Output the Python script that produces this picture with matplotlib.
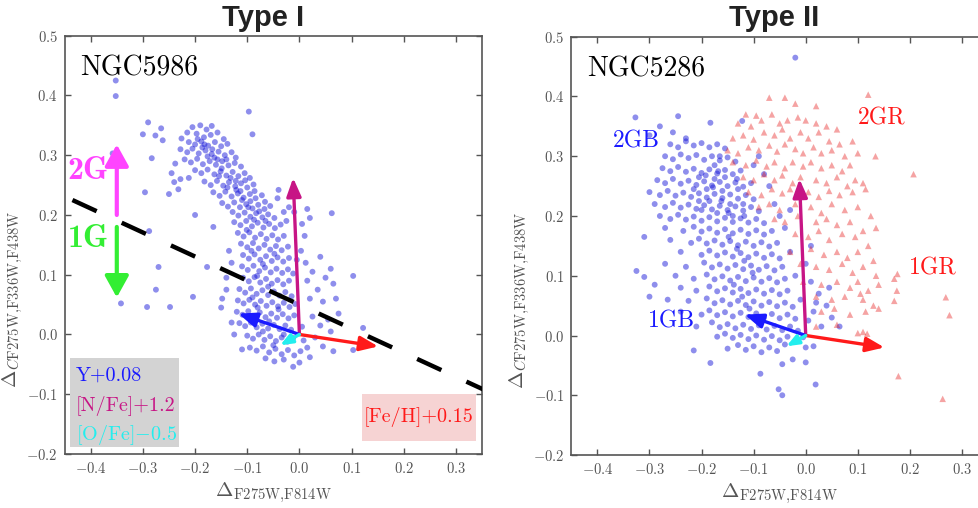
import matplotlib
matplotlib.use("Agg")
import matplotlib.pyplot as plt
from matplotlib.patches import Rectangle
import numpy as np

plt.rcParams['font.family'] = 'serif'
plt.rcParams['font.serif'] = ['cmr10']
plt.rcParams['mathtext.fontset'] = 'cm'
plt.rcParams['axes.formatter.use_mathtext'] = True
plt.rcParams['axes.unicode_minus'] = True

# ---------------- data: NGC5986 (Type I) ----------------
ngc5986_upper = [
    (-0.205,0.347),(-0.19,0.350),(-0.178,0.343),(-0.168,0.349),(-0.215,0.338),(-0.197,0.336),(-0.183,0.33),(-0.17,0.334),
    (-0.157,0.338),(-0.145,0.327),(-0.226,0.328),(-0.212,0.322),(-0.2,0.318),(-0.188,0.323),(-0.175,0.316),(-0.162,0.322),
    (-0.15,0.315),(-0.138,0.319),(-0.228,0.31),(-0.215,0.305),(-0.205,0.311),(-0.193,0.303),(-0.18,0.308),(-0.168,0.302),
    (-0.155,0.306),(-0.143,0.3),(-0.13,0.305),(-0.122,0.296),(-0.22,0.293),(-0.208,0.288),(-0.196,0.294),(-0.185,0.285),
    (-0.172,0.29),(-0.16,0.284),(-0.148,0.29),(-0.136,0.283),(-0.124,0.287),(-0.112,0.281),(-0.2,0.275),(-0.188,0.27),
    (-0.176,0.276),(-0.163,0.268),(-0.151,0.273),(-0.14,0.266),(-0.128,0.272),(-0.117,0.265),(-0.105,0.27),(-0.095,0.262),
    (-0.212,0.262),(-0.182,0.256),(-0.17,0.25),(-0.158,0.257),(-0.146,0.249),(-0.135,0.255),(-0.123,0.248),(-0.112,0.253),
    (-0.1,0.246),(-0.088,0.251),(-0.165,0.238),(-0.153,0.232),(-0.142,0.239),(-0.13,0.231),(-0.118,0.236),(-0.107,0.229),
    (-0.095,0.235),(-0.084,0.228),(-0.072,0.233),(-0.148,0.22),(-0.137,0.214),(-0.125,0.221),(-0.114,0.213),(-0.102,0.218),
    (-0.09,0.211),(-0.079,0.217),(-0.067,0.21),(-0.056,0.215),(-0.128,0.205),(-0.117,0.199),(-0.105,0.204),(-0.094,0.197),
    (-0.083,0.203),(-0.071,0.196),(-0.06,0.201),(-0.048,0.195),
    (-0.245,0.27),(-0.24,0.255),(-0.232,0.243),(-0.25,0.235),(-0.228,0.26),(-0.238,0.286),
    (-0.04,0.242),(-0.042,0.228),(-0.02,0.213),(-0.01,0.205),(0.015,0.21),(0.02,0.195),(0.005,0.185),(-0.025,0.19),(-0.03,0.205),
    (-0.195,0.327),(-0.186,0.313),(-0.176,0.298),(-0.167,0.31),(-0.157,0.293),(-0.149,0.278),(-0.14,0.293),(-0.132,0.262),
    (-0.122,0.257),(-0.113,0.24),(-0.104,0.258),(-0.094,0.223),(-0.086,0.24),(-0.077,0.206),(-0.066,0.222),
    (-0.182,0.318),(-0.163,0.296),(-0.154,0.265),(-0.138,0.246),(-0.121,0.242),(-0.098,0.213),(-0.087,0.192),(-0.11,0.225),
]
ngc5986_mid = [
    (-0.125,0.188),(-0.113,0.183),(-0.102,0.19),(-0.091,0.181),(-0.08,0.187),(-0.069,0.179),(-0.058,0.185),(-0.047,0.178),(-0.036,0.184),
    (-0.118,0.17),(-0.107,0.164),(-0.096,0.171),(-0.085,0.162),(-0.074,0.168),(-0.063,0.16),(-0.052,0.166),(-0.041,0.159),(-0.03,0.165),
    (-0.112,0.152),(-0.1,0.146),(-0.089,0.153),(-0.078,0.144),(-0.067,0.15),(-0.056,0.142),(-0.045,0.148),(-0.034,0.141),(-0.022,0.147),
    (-0.108,0.133),(-0.097,0.127),(-0.086,0.134),(-0.075,0.125),(-0.064,0.131),(-0.053,0.123),(-0.042,0.129),(-0.031,0.122),(-0.02,0.128),
    (-0.11,0.114),(-0.099,0.108),(-0.088,0.115),(-0.077,0.106),(-0.066,0.112),(-0.055,0.104),(-0.044,0.11),(-0.033,0.103),(-0.022,0.109),(-0.012,0.102),
    (-0.108,0.095),(-0.097,0.089),(-0.086,0.096),(-0.075,0.087),(-0.064,0.093),(-0.053,0.085),(-0.042,0.091),(-0.031,0.084),(-0.02,0.09),
    (-0.115,0.076),(-0.104,0.07),(-0.093,0.077),(-0.082,0.068),(-0.071,0.074),(-0.06,0.066),(-0.049,0.072),(-0.038,0.065),(-0.027,0.071),(-0.015,0.064),
    (-0.118,0.057),(-0.107,0.052),(-0.096,0.058),(-0.085,0.05),(-0.074,0.056),(-0.063,0.048),(-0.052,0.054),(-0.041,0.047),(-0.03,0.053),(-0.019,0.046),(-0.008,0.051),
    (0.003,0.14),(0.012,0.12),(0.025,0.105),(0.04,0.13),(0.05,0.095),(0.035,0.075),(0.06,0.11),(0.065,0.085),(0.02,0.06),(0.045,0.055),
    (0.01,0.165),(0.07,0.06),(-0.005,0.125),(0.015,0.09),
    (-0.135,0.14),(-0.14,0.095),(-0.148,0.06),(-0.13,0.12),(-0.14,0.075),
    (-0.092,0.14),(-0.07,0.118),(-0.081,0.098),(-0.06,0.08),(-0.09,0.062),(-0.048,0.135),(-0.101,0.175),(-0.065,0.19),
]
ngc5986_low = [
    (-0.12,0.038),(-0.109,0.033),(-0.098,0.039),(-0.087,0.031),(-0.076,0.037),(-0.065,0.029),(-0.054,0.035),(-0.043,0.028),(-0.032,0.034),(-0.021,0.027),(-0.01,0.032),
    (-0.115,0.019),(-0.104,0.014),(-0.093,0.02),(-0.082,0.012),(-0.071,0.018),(-0.06,0.01),(-0.049,0.016),(-0.038,0.009),(-0.027,0.015),(-0.016,0.008),(0.005,0.013),
    (-0.1,-0.002),(-0.089,-0.007),(-0.078,0.0),(-0.067,-0.009),(-0.056,-0.003),(-0.045,-0.011),(-0.034,-0.005),(-0.023,-0.012),(-0.012,-0.006),(0.008,-0.01),
    (-0.095,-0.022),(-0.082,-0.027),(-0.07,-0.02),(-0.058,-0.03),(-0.046,-0.024),(-0.034,-0.033),(-0.022,-0.026),(-0.01,-0.035),(0.002,-0.028),(0.015,-0.022),
    (-0.048,-0.045),(-0.03,-0.042),(-0.012,-0.054),(0.0,-0.047),(-0.065,-0.04),
    (0.025,0.03),(0.04,0.015),(0.055,0.025),(0.03,-0.005),(0.045,-0.02),(0.065,-0.028),(0.06,0.005),(0.02,-0.038),(0.075,0.035),
    (-0.13,0.02),(-0.125,0.0),(-0.11,-0.025),
    (-0.08,0.045),(-0.058,0.022),(-0.04,0.042),(-0.07,0.005),(-0.03,0.0),(-0.05,-0.018),
]
ngc5986_outliers = [
    (-0.352,0.425),(-0.352,0.399),(-0.358,0.303),(-0.29,0.355),(-0.265,0.345),(-0.3,0.335),(-0.276,0.333),(-0.262,0.325),
    (-0.283,0.295),(-0.296,0.238),(-0.288,0.173),(-0.27,0.113),(-0.275,0.075),(-0.342,0.052),(-0.292,0.046),(-0.248,0.046),
    (-0.204,0.063),(-0.177,0.113),(-0.2,0.2),(-0.097,0.373),(-0.09,0.335),(0.062,0.203),(0.103,0.098),(0.122,0.011),
    (0.103,-0.026),(-0.15,0.045),(-0.165,0.18),
]

# ---------------- data: NGC5286 (Type II) ----------------
ngc5286_blue_upper = [
    (-0.327,0.365),(-0.245,0.367),(-0.28,0.35),(-0.3,0.335),(-0.255,0.34),(-0.02,0.465),(-0.183,0.356),(-0.122,0.359),(-0.23,0.33),
    (-0.26,0.32),(-0.245,0.315),(-0.23,0.325),(-0.215,0.318),(-0.2,0.322),(-0.185,0.315),(-0.17,0.32),(-0.155,0.313),
    (-0.27,0.3),(-0.255,0.295),(-0.24,0.303),(-0.225,0.297),(-0.21,0.302),(-0.195,0.294),(-0.18,0.3),(-0.165,0.293),(-0.15,0.298),(-0.135,0.291),
    (-0.275,0.28),(-0.26,0.275),(-0.245,0.282),(-0.23,0.274),(-0.215,0.279),(-0.2,0.272),(-0.185,0.278),(-0.17,0.271),(-0.155,0.277),(-0.14,0.27),(-0.125,0.276),
    (-0.285,0.26),(-0.27,0.255),(-0.255,0.262),(-0.24,0.254),(-0.225,0.259),(-0.21,0.252),(-0.195,0.258),(-0.18,0.251),(-0.165,0.257),(-0.15,0.25),(-0.135,0.256),(-0.12,0.249),(-0.105,0.255),
    (-0.3,0.24),(-0.28,0.235),(-0.265,0.242),(-0.25,0.234),(-0.235,0.239),(-0.22,0.232),(-0.205,0.238),(-0.19,0.231),(-0.175,0.237),(-0.16,0.23),(-0.145,0.236),(-0.13,0.229),(-0.115,0.235),(-0.1,0.228),
    (-0.29,0.22),(-0.27,0.215),(-0.255,0.222),(-0.24,0.214),(-0.225,0.219),(-0.21,0.212),(-0.195,0.218),(-0.18,0.211),(-0.165,0.217),(-0.15,0.21),(-0.135,0.216),(-0.12,0.209),(-0.105,0.215),(-0.09,0.208),
    (-0.28,0.2),(-0.26,0.195),(-0.245,0.202),(-0.23,0.194),(-0.215,0.199),(-0.2,0.192),(-0.185,0.198),(-0.17,0.191),(-0.155,0.197),(-0.14,0.19),(-0.125,0.196),(-0.11,0.189),(-0.095,0.195),(-0.08,0.188),
    (-0.205,0.265),(-0.19,0.245),(-0.175,0.262),(-0.16,0.242),(-0.145,0.22),(-0.13,0.245),(-0.185,0.225),(-0.17,0.205),
    (-0.2,0.21),(-0.155,0.265),(-0.14,0.2),(-0.215,0.245),(-0.175,0.285),(-0.12,0.22),(-0.165,0.3),
    (-0.07,0.25),(-0.06,0.22),(-0.08,0.27),(-0.05,0.2),(-0.09,0.3),(-0.1,0.285),(-0.04,0.18),(-0.03,0.21),
    (-0.192,0.268),(-0.178,0.248),(-0.162,0.225),(-0.148,0.205),(-0.132,0.262),(-0.118,0.2),(-0.205,0.225),(-0.168,0.275),
]
ngc5286_blue_lower = [
    (-0.27,0.18),(-0.235,0.175),(-0.215,0.182),(-0.2,0.174),(-0.185,0.179),(-0.17,0.172),(-0.155,0.178),(-0.14,0.171),(-0.125,0.177),(-0.11,0.17),(-0.095,0.176),(-0.08,0.169),(-0.065,0.175),
    (-0.31,0.165),(-0.26,0.16),(-0.22,0.155),(-0.205,0.162),(-0.19,0.154),(-0.175,0.159),(-0.16,0.152),(-0.145,0.158),(-0.13,0.151),(-0.115,0.157),(-0.1,0.15),(-0.085,0.156),(-0.07,0.149),(-0.055,0.155),
    (-0.24,0.14),(-0.2,0.135),(-0.185,0.142),(-0.17,0.134),(-0.155,0.139),(-0.14,0.132),(-0.125,0.138),(-0.11,0.131),(-0.095,0.137),(-0.08,0.13),(-0.065,0.136),(-0.05,0.129),
    (-0.27,0.12),(-0.23,0.115),(-0.195,0.122),(-0.18,0.114),(-0.165,0.119),(-0.15,0.112),(-0.135,0.118),(-0.12,0.111),(-0.105,0.117),(-0.09,0.11),(-0.075,0.116),(-0.06,0.109),(-0.045,0.115),
    (-0.325,0.108),(-0.31,0.098),(-0.25,0.1),(-0.215,0.095),(-0.19,0.102),(-0.175,0.094),(-0.16,0.099),(-0.145,0.092),(-0.13,0.098),(-0.115,0.091),(-0.1,0.097),(-0.085,0.09),(-0.07,0.096),(-0.055,0.089),(-0.04,0.095),
    (-0.29,0.085),(-0.24,0.08),(-0.21,0.075),(-0.185,0.082),(-0.17,0.074),(-0.155,0.079),(-0.14,0.072),(-0.125,0.078),(-0.11,0.071),(-0.095,0.077),(-0.08,0.07),(-0.065,0.076),(-0.05,0.069),(-0.035,0.075),
    (-0.3,0.065),(-0.265,0.06),(-0.225,0.058),(-0.19,0.062),(-0.175,0.054),(-0.16,0.059),(-0.145,0.052),(-0.13,0.058),(-0.115,0.051),(-0.1,0.057),(-0.085,0.05),(-0.07,0.056),(-0.055,0.049),(-0.04,0.055),(-0.025,0.048),
    (-0.24,0.04),(-0.2,0.035),(-0.185,0.042),(-0.17,0.034),(-0.155,0.039),(-0.14,0.032),(-0.125,0.038),(-0.11,0.031),(-0.095,0.037),(-0.08,0.03),(-0.065,0.036),(-0.05,0.029),(-0.035,0.035),(-0.02,0.028),
    (-0.21,0.015),(-0.18,0.022),(-0.165,0.014),(-0.15,0.019),(-0.135,0.012),(-0.12,0.018),(-0.105,0.011),(-0.09,0.017),(-0.075,0.01),(-0.06,0.016),(-0.045,0.009),(-0.03,0.015),(-0.015,0.008),
    (-0.17,-0.002),(-0.155,0.003),(-0.14,-0.004),(-0.125,0.001),(-0.11,-0.006),(-0.095,0.0),(-0.08,-0.007),(-0.065,-0.001),(-0.05,-0.008),(-0.035,-0.002),(-0.02,-0.009),(-0.005,-0.003),
    (-0.215,-0.025),(-0.15,-0.022),(-0.13,-0.016),(-0.115,-0.024),(-0.1,-0.018),(-0.085,-0.028),(-0.07,-0.02),(-0.055,-0.026),(-0.04,-0.015),(0.0,-0.02),(0.015,-0.018),
    (-0.183,-0.046),(-0.087,-0.064),(-0.052,-0.09),(-0.045,-0.1),(0.019,-0.082),(-0.025,-0.04),(0.0,-0.045),(-0.045,-0.048),
    (0.01,0.09),(0.025,0.07),(0.04,0.05),(0.015,0.04),(0.05,0.03),(0.065,0.015),(0.03,0.015),(0.02,0.055),(0.045,0.08),(0.005,0.025),
    (-0.01,0.06),(0.0,0.12),(-0.02,0.1),(-0.03,0.14),(0.01,0.15),
    (-0.148,0.165),(-0.132,0.145),(-0.118,0.125),(-0.102,0.105),(-0.138,0.085),(-0.122,0.065),(-0.108,0.045),(-0.088,0.025),
]
ngc5286_red_2g = [
    (-0.115,0.37),(-0.095,0.368),(-0.07,0.398),(-0.04,0.398),(-0.02,0.388),(0.02,0.384),(0.12,0.403),
    (-0.13,0.355),(-0.105,0.35),(-0.085,0.36),(-0.065,0.37),(-0.05,0.355),(-0.035,0.36),(-0.015,0.365),(0.0,0.36),(0.02,0.355),(0.04,0.35),(0.06,0.345),
    (-0.14,0.33),(-0.12,0.335),(-0.1,0.328),(-0.08,0.34),(-0.06,0.335),(-0.045,0.345),(-0.03,0.33),(-0.01,0.34),(0.005,0.33),(0.025,0.34),(0.045,0.325),(0.065,0.32),(0.09,0.325),
    (-0.15,0.31),(-0.13,0.305),(-0.11,0.315),(-0.09,0.31),(-0.07,0.318),(-0.055,0.308),(-0.04,0.32),(-0.02,0.312),(-0.005,0.305),(0.015,0.315),(0.03,0.305),(0.05,0.31),(0.075,0.3),(0.1,0.305),(0.134,0.3),
    (-0.14,0.29),(-0.115,0.285),(-0.095,0.293),(-0.075,0.283),(-0.06,0.29),(-0.04,0.28),(-0.025,0.29),(-0.005,0.283),(0.01,0.29),(0.03,0.28),(0.05,0.285),(0.07,0.275),(0.085,0.285),(0.207,0.27),
    (-0.12,0.265),(-0.1,0.26),(-0.08,0.27),(-0.06,0.26),(-0.045,0.268),(-0.025,0.255),(-0.01,0.265),(0.02,0.26),(0.04,0.255),(0.06,0.265),(0.08,0.25),(0.095,0.26),(0.11,0.255),
    (-0.11,0.24),(-0.085,0.235),(-0.065,0.245),(-0.045,0.238),(-0.03,0.245),(0.005,0.24),(0.025,0.232),(0.045,0.242),(0.065,0.235),(0.09,0.24),(0.115,0.245),
    (-0.09,0.215),(-0.07,0.22),(-0.05,0.21),(-0.02,0.22),(0.01,0.215),(0.03,0.205),(0.05,0.22),(0.075,0.21),(0.1,0.215),(0.125,0.2),
    (-0.06,0.195),(-0.04,0.19),(-0.015,0.2),(0.02,0.19),(0.04,0.195),(0.06,0.185),(0.085,0.19),(0.11,0.175),(0.135,0.18),
]
ngc5286_red_1g = [
    (-0.02,0.17),(0.005,0.165),(0.025,0.175),(0.045,0.16),(0.07,0.17),(0.095,0.165),(0.12,0.15),
    (-0.03,0.14),(0.01,0.145),(0.035,0.135),(0.06,0.14),(0.08,0.13),(0.1,0.14),(0.13,0.125),
    (-0.01,0.12),(0.02,0.115),(0.045,0.11),(0.07,0.12),(0.09,0.105),(0.11,0.115),(0.135,0.1),(0.176,0.103),(0.17,0.095),
    (-0.005,0.09),(0.03,0.085),(0.06,0.09),(0.085,0.08),(0.1,0.09),(0.12,0.075),(0.14,0.085),(0.175,0.075),
    (0.02,0.065),(0.05,0.06),(0.075,0.065),(0.105,0.07),(0.11,0.06),(0.13,0.05),(0.17,0.058),(0.269,0.064),
    (0.03,0.04),(0.055,0.045),(0.085,0.035),(0.115,0.04),(0.14,0.045),(0.276,0.034),
    (0.02,0.015),(0.06,0.018),(0.1,0.004),(0.11,0.006),(0.118,0.003),
    (0.178,-0.068),(0.263,-0.106),
]

# vectors (tips; all start at origin)
vec_names = ['Y', 'N', 'O', 'Fe']
vec_dx = [-0.117, -0.012, -0.037, 0.151]
vec_dy = [0.035, 0.262, -0.018, -0.020]
vec_colors = ['#1a1aff', '#c71585', '#22eeee', '#ff1a1a']
vec_heads = [20, 20, 13, 20]

# separating line (Type I)
sep_x = [-0.435, 0.36]
sep_y = [0.225, -0.095]

xticks = [-0.4, -0.3, -0.2, -0.1, 0.0, 0.1, 0.2, 0.3]
yticks = [-0.2, -0.1, 0.0, 0.1, 0.2, 0.3, 0.4, 0.5]

GRAY = '#555555'
BLUE_PT = (0.08, 0.08, 0.85)

fig = plt.figure(figsize=(9.79, 5.08), dpi=100)
ax1 = fig.add_axes([0.066, 0.1063, 0.4264, 0.8234])
ax2 = fig.add_axes([0.5836, 0.1043, 0.4256, 0.8234])


def style(ax, top=True, right=True):
    ax.set_xlim(-0.45, 0.35)
    ax.set_ylim(-0.2, 0.5)
    ax.set_xticks(xticks)
    ax.set_yticks(yticks)
    ax.tick_params(direction='in', length=4, width=1, colors=GRAY, labelsize=10.5,
                   top=top, right=right, pad=5)
    for s in ax.spines.values():
        s.set_color(GRAY)
        s.set_linewidth(1.2)
    ax.set_xlabel(r'$\Delta_{\mathrm{F275W{,}F814W}}$', fontsize=15, color=GRAY, labelpad=3)
    ax.set_ylabel(r'$\Delta_{C\mathrm{F275W{,}F336W{,}F438W}}$', fontsize=15, color=GRAY)
    ax.yaxis.set_label_coords(-0.095, 0.37)


def scatter_pts(ax, pts, **kw):
    arr = np.array(pts)
    ax.scatter(arr[:, 0], arr[:, 1], **kw)


def vectors(ax):
    order = [1, 0, 3, 2]
    for i in order:
        ax.annotate('', xy=(vec_dx[i], vec_dy[i]), xytext=(0, 0),
                    arrowprops=dict(arrowstyle='-|>,head_length=0.55,head_width=0.22',
                                    lw=2.4, color=vec_colors[i], shrinkA=0, shrinkB=0,
                                    mutation_scale=vec_heads[i]), zorder=6)


# ---- left panel ----
style(ax1)
for grp in (ngc5986_upper, ngc5986_mid, ngc5986_low, ngc5986_outliers):
    scatter_pts(ax1, grp, s=18, color=BLUE_PT, alpha=0.48, edgecolors='none', zorder=2)
ax1.plot(sep_x, sep_y, color='black', lw=3.2, dashes=(6.0, 6.2), solid_capstyle='butt',
         dash_capstyle='butt', zorder=4)
vectors(ax1)
ax1.annotate('', xy=(-0.35, 0.318), xytext=(-0.35, 0.2),
             arrowprops=dict(arrowstyle='-|>,head_length=0.65,head_width=0.36', lw=3,
                             color='#ff44ff', shrinkA=0, shrinkB=0, mutation_scale=20), zorder=5)
ax1.annotate('', xy=(-0.35, 0.062), xytext=(-0.35, 0.18),
             arrowprops=dict(arrowstyle='-|>,head_length=0.65,head_width=0.36', lw=3,
                             color='#33ee33', shrinkA=0, shrinkB=0, mutation_scale=20), zorder=5)
ax1.text(-0.444, 0.274, '2G', color='#ff44ff', fontsize=23, family='cmb10', va='center', ha='left')
ax1.text(-0.444, 0.161, '1G', color='#33ee33', fontsize=23, family='cmb10', va='center', ha='left')
ax1.text(-0.42, 0.446, 'NGC5986', fontsize=20, color='black', va='center', ha='left')

ax1.add_patch(Rectangle((-0.44, -0.188), 0.21, 0.149, facecolor='#d3d3d3', edgecolor='none', zorder=3))
ax1.text(-0.428, -0.0686, 'Y+0.08', color='#1a1aff', fontsize=14.5, va='center', ha='left', zorder=7)
ax1.text(-0.428, -0.119, '[N/Fe]+1.2', color='#c71585', fontsize=14.5, va='center', ha='left', zorder=7)
ax1.text(-0.428, -0.169, r'[O/Fe]$-$0.5', color='#22eeee', fontsize=14.5, va='center', ha='left', zorder=7)
ax1.add_patch(Rectangle((0.12, -0.179), 0.219, 0.08, facecolor='#f6d3d3', edgecolor='none', zorder=3))
ax1.text(0.229, -0.1376, '[Fe/H]+0.15', color='#ff1a1a', fontsize=14.5, va='center', ha='center', zorder=7)

# ---- right panel ----
style(ax2)
for grp in (ngc5286_blue_upper, ngc5286_blue_lower):
    scatter_pts(ax2, grp, s=18, color=BLUE_PT, alpha=0.48, edgecolors='none', zorder=2)
for grp in (ngc5286_red_2g, ngc5286_red_1g):
    scatter_pts(ax2, grp, s=22, marker='^', color=(0.9, 0.1, 0.1), alpha=0.4, edgecolors='none', zorder=2)
vectors(ax2)
ax2.text(-0.42, 0.445, 'NGC5286', fontsize=20, color='black', va='center', ha='left')
ax2.text(-0.37, 0.324, '2GB', fontsize=17, color='#1a1aff', va='center', ha='left')
ax2.text(-0.3025, 0.023, '1GB', fontsize=17, color='#1a1aff', va='center', ha='left')
ax2.text(0.10, 0.3625, '2GR', fontsize=17, color='#ff1a1a', va='center', ha='left')
ax2.text(0.198, 0.1125, '1GR', fontsize=17, color='#ff1a1a', va='center', ha='left')

fig.text(263.5 / 979, 1 - 26 / 508, 'Type I', family='Liberation Sans', weight='bold',
         fontsize=21, color='#222222', ha='center', va='baseline')
fig.text(774.5 / 979, 1 - 26 / 508, 'Type II', family='Liberation Sans', weight='bold',
         fontsize=21, color='#222222', ha='center', va='baseline')

fig.savefig('out.png', dpi=100)
